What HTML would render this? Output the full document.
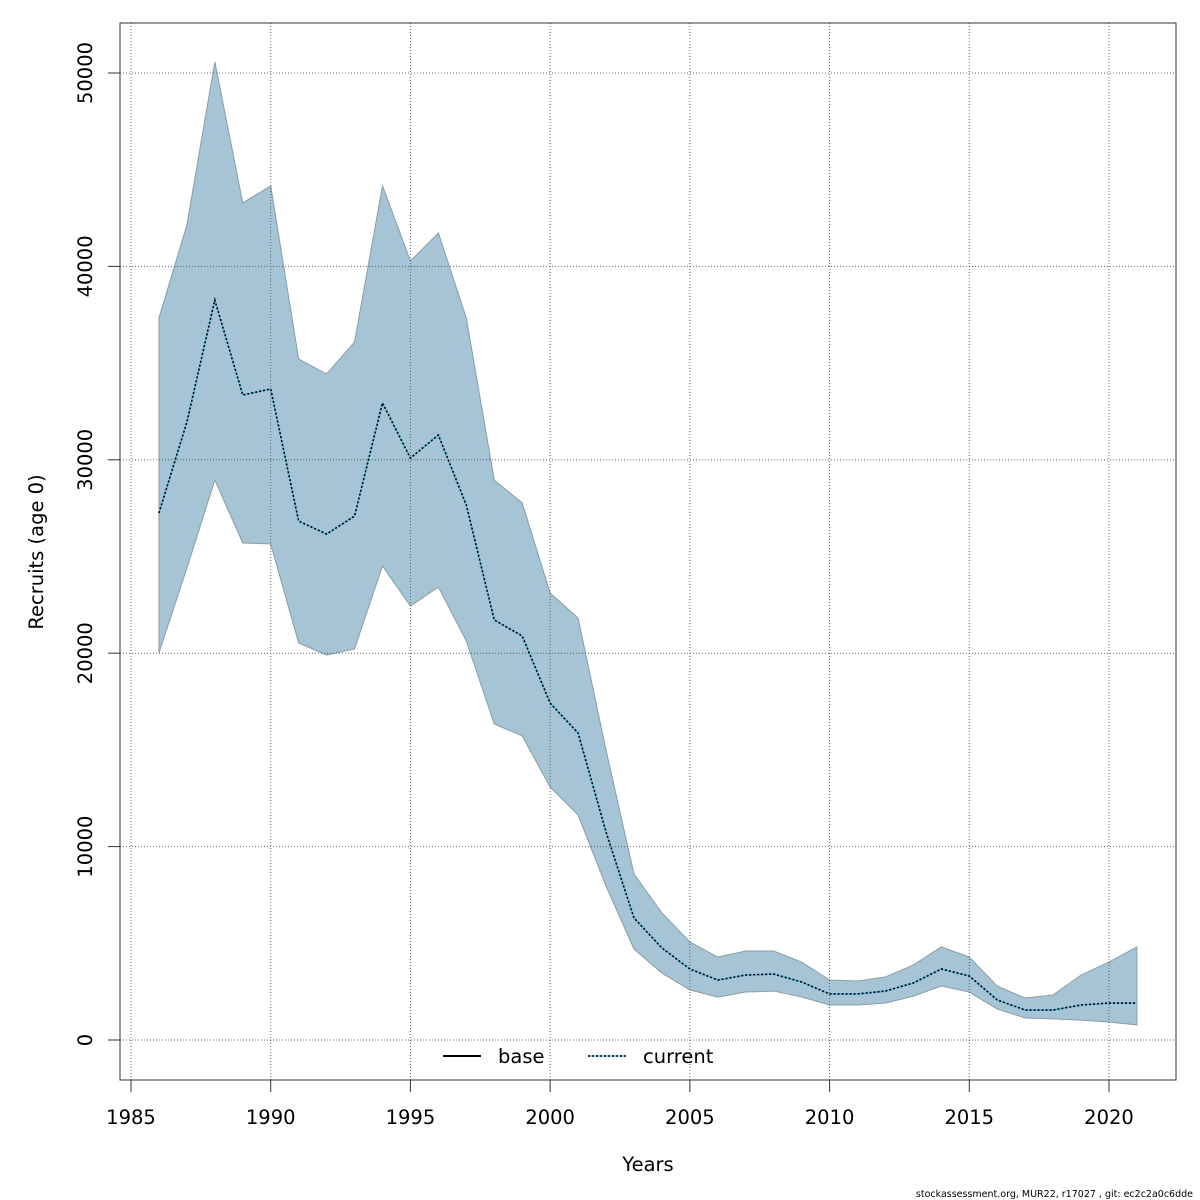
<!DOCTYPE html>
<html><head><meta charset="utf-8"><style>
body{margin:0;background:#fff;}
svg{display:block;font-family:"DejaVu Sans","Liberation Sans",sans-serif;}
</style></head><body>
<svg id="chart" width="1200" height="1200">
<rect width="1200" height="1200" fill="#fff"/>
<g id="series"></g>
<g id="grid"></g>
<g id="lines"></g>
<rect x="120" y="23" width="1056" height="1057" fill="none" stroke="#333" stroke-width="1"/>
<g id="axes"></g>
<text x="648" y="1171" font-size="19.5" text-anchor="middle">Years</text>
<text transform="translate(43,552) rotate(-90)" font-size="19.5" text-anchor="middle">Recruits (age 0)</text>
<g>
<g>
<line x1="443" y1="1056" x2="481" y2="1056" stroke="#000" stroke-width="2"/>
<text x="498" y="1063" font-size="19.5">base</text></g>
<g>
<line x1="588" y1="1056" x2="626" y2="1056" stroke="#5bc0eb" stroke-width="1.6"/>
<line x1="588" y1="1056" x2="626" y2="1056" stroke="#000" stroke-width="1.6" stroke-dasharray="2,2"/>
<text x="643" y="1063" font-size="19.5">current</text></g>
</g>
<text x="1193" y="1197" font-size="9.5" text-anchor="end">stockassessment.org, MUR22, r17027 , git: ec2c2a0c6dde</text>
</svg>
<script>
const years=[1986,1987,1988,1989,1990,1991,1992,1993,1994,1995,1996,1997,1998,1999,2000,2001,2002,2003,2004,2005,2006,2007,2008,2009,2010,2011,2012,2013,2014,2015,2016,2017,2018,2019,2020,2021];
const upper=[37330,42140,50570,43280,44160,35210,34440,36090,44160,40280,41730,37330,28950,27770,23110,21820,14990,8580,6570,5070,4290,4600,4600,4030,3100,3050,3260,3880,4810,4290,2790,2170,2330,3360,4030,4810];
const estimate=[27250,31950,38260,33350,33660,26830,26160,27090,32940,30090,31280,27660,21720,20890,17420,15870,10750,6310,4760,3670,3100,3360,3410,3000,2380,2380,2530,2950,3670,3310,2070,1550,1550,1810,1910,1910];
const lower=[20010,24400,28950,25700,25650,20530,19910,20220,24510,22440,23420,20630,16340,15720,13080,11630,7960,4700,3460,2590,2220,2480,2530,2220,1810,1810,1910,2270,2790,2480,1600,1140,1090,1030,930,780];
const xTicks=[1985,1990,1995,2000,2005,2010,2015,2020];
const yTicks=[0,10000,20000,30000,40000,50000];

const NS="http://www.w3.org/2000/svg";
const X=v=>131+(v-1985)*(1109-131)/35;
const Y=v=>1040-v*(1040-73)/50000;
function mk(tag,attrs,parent){const e=document.createElementNS(NS,tag);for(const k in attrs)e.setAttribute(k,attrs[k]);parent.appendChild(e);return e;}
const grid=document.getElementById('grid'),axes=document.getElementById('axes'),series=document.getElementById('series'),lines=document.getElementById('lines');
xTicks.forEach(t=>{
  const g=mk('line',{x1:X(t),x2:X(t),y1:23,y2:1080,stroke:'#444','stroke-opacity':0.8,'stroke-width':1,'stroke-dasharray':'1,2'},grid);
  
  
  const tk=mk('line',{x1:X(t),x2:X(t),y1:1080,y2:1092,stroke:'#333'},axes);
  
  
  const tx=mk('text',{x:X(t),y:1124,'font-size':19.5,'text-anchor':'middle'},axes);
  tx.textContent=t;
  
  
});
yTicks.forEach(t=>{
  const g=mk('line',{x1:120,x2:1176,y1:Y(t),y2:Y(t),stroke:'#444','stroke-opacity':0.8,'stroke-width':1,'stroke-dasharray':'1,2'},grid);
  
  
  const tk=mk('line',{x1:108,x2:120,y1:Y(t),y2:Y(t),stroke:'#333'},axes);
  
  
  const tx=mk('text',{transform:`translate(92,${Y(t)}) rotate(-90)`,'font-size':19.5,'text-anchor':'middle'},axes);
  tx.textContent=t;
  
  
});
let pts=years.map((y,i)=>X(y)+','+Y(upper[i]));
for(let i=years.length-1;i>=0;i--)pts.push(X(years[i])+','+Y(lower[i]));
const band=mk('polygon',{points:pts.join(' '),fill:'#a5c4d5',stroke:'#8a9ca6','stroke-width':1},series);


const lp=years.map((y,i)=>X(y)+','+Y(estimate[i])).join(' ');
const base=mk('polyline',{points:lp,fill:'none',stroke:'#5bc0eb','stroke-width':1.6},lines);


const cur=mk('polyline',{points:lp,fill:'none',stroke:'#000','stroke-width':1.6,'stroke-dasharray':'2,2'},lines);


</script>
</body></html>
